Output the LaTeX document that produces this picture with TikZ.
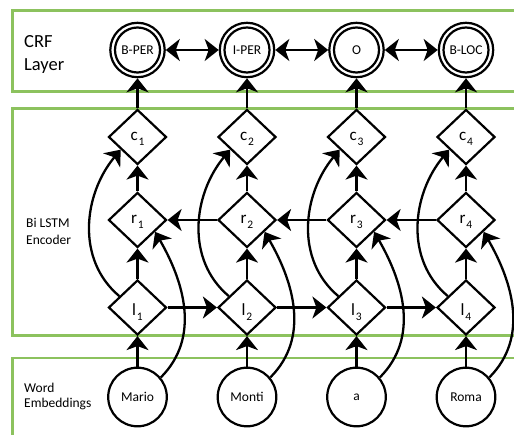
\documentclass[tikz,border=0pt]{standalone}
\usepackage{fontspec}
\setmainfont{Carlito}
\usetikzlibrary{arrows.meta,shapes.geometric}
\definecolor{boxgreen}{RGB}{140,194,94}
\newcommand\dlab[2]{{\fontsize{17}{17}\selectfont #1}\hspace{0.8pt}\raisebox{-5pt}{\fontsize{11.5}{11.5}\selectfont #2}}
\begin{document}
\begin{tikzpicture}[x=1pt,y=1pt,
  greenbox/.style={draw=boxgreen,line width=2.6pt},
  arr/.style={line width=2.3pt,-{Stealth[length=14pt,width=22pt,inset=4pt]}},
  biarr/.style={line width=2.3pt,{Stealth[length=14pt,width=22pt,inset=4pt]}-{Stealth[length=14pt,width=22pt,inset=4pt]}},
  crf/.style={circle,draw,line width=2.2pt,minimum size=54.4pt,inner sep=0pt,font=\fontsize{13.5}{16}\selectfont},
  word/.style={circle,draw,line width=2.2pt,minimum size=58.6pt,inner sep=0pt,font=\fontsize{13.5}{16}\selectfont},
  dia/.style={diamond,aspect=1,draw,line width=2.2pt,minimum width=58pt,minimum height=55pt,inner sep=0pt,text depth=0pt},
  sidelab/.style={anchor=base west,inner sep=0pt,font=\fontsize{13.5}{16}\selectfont},
  biglab/.style={anchor=base west,inner sep=0pt,font=\fontsize{18.5}{23}\selectfont}
]
\useasboundingbox (0,0) rectangle (514,-435);
\clip (0,0) rectangle (514,-435);
% layer boxes
\draw[greenbox] (12.3,-10.7) rectangle (540,-91.7);
\draw[greenbox] (12.3,-108.3) rectangle (540,-335.7);
\draw[greenbox] (12.3,-358) rectangle (540,-470);
% layer labels
\node[biglab] (crfA) at (24,-48) {CRF};
\node[biglab] (crfB) at (24,-71) {Layer};
\node[sidelab] (encA) at (26,-228) {Bi LSTM};
\node[sidelab] (encB) at (26,-245) {Encoder};
\node[sidelab] (embA) at (24,-392) {Word};
\node[sidelab] (embB) at (24,-407) {Embeddings};
% columns
\foreach \i/\x/\t/\w in {1/137.5/B-PER/Mario, 2/247/I-PER/Monti, 3/356.5/O/a, 4/466/B-LOC/Roma} {
  \node[crf] (crf\i) at (\x,-50) {\t};
  \draw[line width=2.2pt] (crf\i.center) circle (22.5);
  \node[dia,text height=8pt] (c\i) at (\x,-137) {\dlab{c}{\i}};
  \node[dia,text height=8pt] (r\i) at (\x,-220) {\dlab{r}{\i}};
  \node[dia,text height=16pt] (l\i) at (\x,-307.5) {\dlab{l}{\i}};
  \node[word] (w\i) at (\x,-397) {\w};
}
% vertical arrows and curves
\foreach \i in {1,2,3,4} {
  \draw[arr] (c\i.north) -- (crf\i.south);
  \draw[arr] (r\i.north) -- (c\i.south);
  \draw[arr] (l\i.north) -- (r\i.south);
  \draw[arr] (w\i.north) -- (l\i.south);
  \draw[arr] (l\i.148) to[out=140,in=230] (c\i.217);
  \draw[arr] (w\i.40) to[out=45,in=-60] (r\i.-34);
}
% horizontal arrows
\foreach \i/\j in {1/2,2/3,3/4} {
  \draw[biarr] (crf\i.east) -- (crf\j.west);
  \draw[arr] (l\i.east) -- (l\j.west);
  \draw[arr] (r\j.west) -- (r\i.east);
}
\end{tikzpicture}
\end{document}
